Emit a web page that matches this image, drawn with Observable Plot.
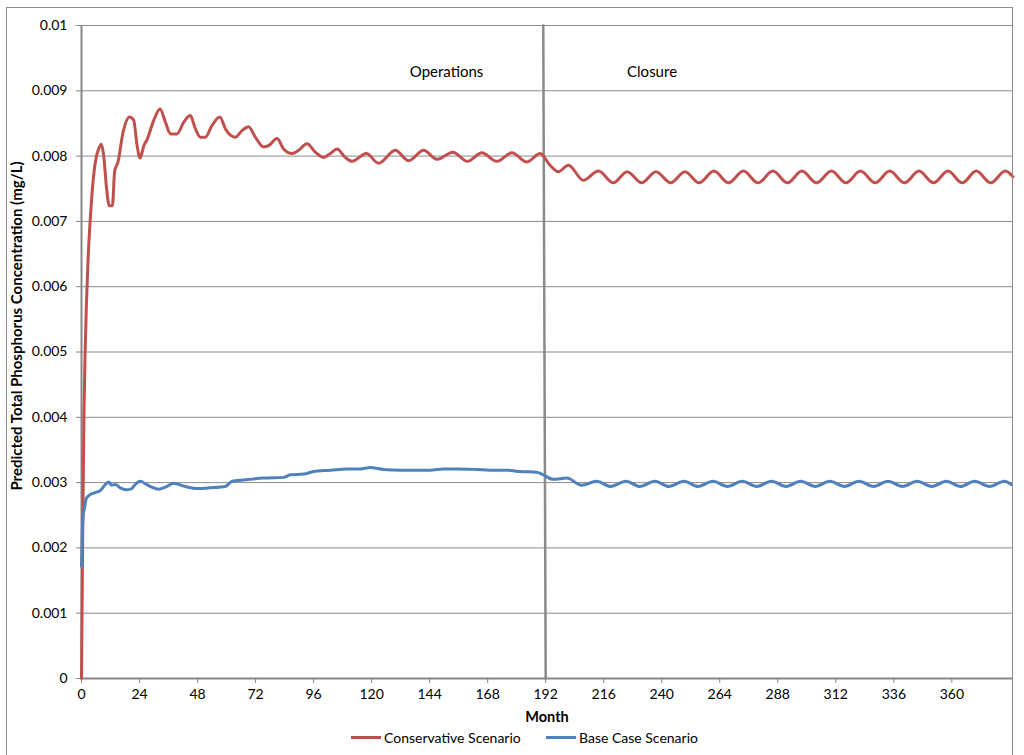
<!DOCTYPE html>
<html>
<head>
<meta charset="utf-8">
<script src="https://cdn.jsdelivr.net/npm/d3@7"></script>
<script src="https://cdn.jsdelivr.net/npm/@observablehq/plot@0.6"></script>
<style>
  body { margin: 0; background: #fff; font-family: Lato, "Liberation Sans", sans-serif; }
  #wrap { position: relative; width: 1024px; height: 755px; overflow: hidden; }
  #frame { position: absolute; left: 6px; top: 7px; width: 1007px; height: 760px; border: 1px solid #8c8c8c; box-sizing: border-box; pointer-events: none; }
  #chart { position: absolute; left: 0; top: 0; }
  #legend { position: absolute; top: 728px; left: 0; width: 1024px; height: 18px; font-size: 14px; color: #000; }
  .item { position: absolute; top: 0; display: flex; align-items: center; height: 18px; }
  .sw { width: 30px; height: 3px; margin-right: 3px; }
</style>
</head>
<body>
<div id="wrap">
  <div id="chart"></div>
  <div id="frame"></div>
  <div id="legend"></div>
</div>
<script>
// ---- Data ----
const seriesNames = ["Conservative Scenario", "Base Case Scenario"];
const seriesColors = ["#C0504D", "#4F81BD"];

const consMonths = [0, 0.5, 1, 1.5, 2, 2.7, 3.4, 4.1, 5, 6.2, 7.2, 8.2, 9.2, 10.3, 11.5, 12.8, 13.7, 15.1, 17.1, 19.9, 21.6, 23, 24.2, 25.8, 27.2, 29.9, 32.5, 34.7, 36.8, 39.5, 42.3, 45, 47.1, 49.2, 51.2, 54, 57.2, 59.5, 61.6, 63.6, 66.4, 69.1, 71.9, 75.3, 77.4, 80.9, 83.6, 87.1, 89.8, 93.3, 96.7, 100.1, 102.9, 105.7, 109.1, 111.9, 117.8, 122.9, 129.8, 135.3, 141.5, 147, 153.6, 159.6, 165.6, 171.8, 178, 184.2, 189.7, 193.8, 197.2, 201.4, 207.6, 213.8, 220, 225.7, 231.7, 237.6, 243.7, 249.6, 255.4, 261.6, 267.6, 273.8, 279.8, 286, 292, 298, 304, 310.2, 316.2, 322.2, 328.3, 334.3, 340.4, 346.4, 352.4, 358.4, 364.3, 370.1, 376.1, 382.1, 385.3];
const consValues = [0, 0.0022, 0.0040, 0.0050, 0.0057, 0.0064, 0.0069, 0.0073, 0.0077, 0.0080, 0.00812, 0.00818, 0.0080, 0.00753, 0.00724, 0.00724, 0.00777, 0.00791, 0.00835, 0.0086, 0.00855, 0.00816, 0.00797, 0.00816, 0.00826, 0.00855, 0.00872, 0.00852, 0.00834, 0.00834, 0.00852, 0.00862, 0.00842, 0.00829, 0.00829, 0.00847, 0.0086, 0.00842, 0.00832, 0.00829, 0.00839, 0.00845, 0.00829, 0.00814, 0.00816, 0.00827, 0.00811, 0.00804, 0.00809, 0.00819, 0.00806, 0.00798, 0.00804, 0.00811, 0.00798, 0.00792, 0.00804, 0.00789, 0.00809, 0.00793, 0.00809, 0.00795, 0.00806, 0.00792, 0.00805, 0.00792, 0.00805, 0.00791, 0.00804, 0.00786, 0.00776, 0.00786, 0.00763, 0.00777, 0.00759, 0.00776, 0.00759, 0.00776, 0.00759, 0.00776, 0.00759, 0.00777, 0.00759, 0.00777, 0.00759, 0.00777, 0.00759, 0.00777, 0.00759, 0.00777, 0.00759, 0.00777, 0.00759, 0.00777, 0.00759, 0.00777, 0.00759, 0.00777, 0.00759, 0.00777, 0.00759, 0.00777, 0.00768];

const baseMonths = [0, 0.3, 0.7, 1.2, 2, 3, 5, 7.5, 9.6, 11.2, 12.5, 14, 16, 18.5, 20.4, 22.5, 24.4, 26.5, 28.5, 32, 34.7, 38.1, 43, 48, 53.3, 59.5, 62.3, 67.1, 75.3, 83.6, 86.4, 91.9, 96, 102.9, 109.8, 115.3, 119.4, 124.9, 131.8, 138.7, 144.2, 149.7, 155.2, 163.5, 169, 175.9, 181.4, 188.3, 190.4, 195.2, 200.7, 206.9, 213.1, 218.8, 225.2, 230.9, 237.2, 242.9, 249.2, 255, 261.2, 267.2, 273.3, 279.3, 285.4, 291.4, 297.5, 303.5, 309.5, 315.6, 321.6, 327.6, 333.6, 339.6, 345.6, 351.7, 357.7, 363.6, 369.4, 375.6, 381.8, 384.6];
const baseValues = [0.00172, 0.0022, 0.0025, 0.0026, 0.00276, 0.0028, 0.00284, 0.00287, 0.00296, 0.00301, 0.00296, 0.00297, 0.00292, 0.00289, 0.0029, 0.00298, 0.00302, 0.00298, 0.00294, 0.0029, 0.00293, 0.00299, 0.00294, 0.00291, 0.00292, 0.00294, 0.00302, 0.00304, 0.00307, 0.00308, 0.00312, 0.00313, 0.00317, 0.00319, 0.00321, 0.00321, 0.00323, 0.0032, 0.00319, 0.00319, 0.00319, 0.00321, 0.00321, 0.0032, 0.00319, 0.00319, 0.00317, 0.00316, 0.00313, 0.00305, 0.00307, 0.00296, 0.00302, 0.00294, 0.00302, 0.00294, 0.00302, 0.00294, 0.00302, 0.00294, 0.00302, 0.00294, 0.00302, 0.00294, 0.00302, 0.00294, 0.00302, 0.00294, 0.00302, 0.00294, 0.00302, 0.00294, 0.00302, 0.00294, 0.00302, 0.00294, 0.00302, 0.00294, 0.00302, 0.00294, 0.00302, 0.00297];

// Operations / Closure divider line
const dividerMonths = [191, 192];
const dividerValues = [0.01, 0];

// Phase annotations
const phaseLabels = ["Operations", "Closure"];
const phaseMonths = [151, 236];
const phaseValues = [0.00928, 0.00928];

const xTicks = [0, 24, 48, 72, 96, 120, 144, 168, 192, 216, 240, 264, 288, 312, 336, 360];
const yTicks = [0, 0.001, 0.002, 0.003, 0.004, 0.005, 0.006, 0.007, 0.008, 0.009, 0.01];
const yTickLabels = ["0", "0.001", "0.002", "0.003", "0.004", "0.005", "0.006", "0.007", "0.008", "0.009", "0.01"];
const xTitle = "Month";
const yTitle = "Predicted Total Phosphorus Concentration (mg/L)";

// ---- Build tables ----
const cons = consMonths.map((m, i) => ({month: m, value: consValues[i], series: seriesNames[0]}));
const base = baseMonths.map((m, i) => ({month: m, value: baseValues[i], series: seriesNames[1]}));
const divider = dividerMonths.map((m, i) => ({month: m, value: dividerValues[i]}));
const phases = phaseLabels.map((t, i) => ({label: t, month: phaseMonths[i], value: phaseValues[i]}));

const gridColor = "#8c8c8c";
const axisColor = "#868686";

const chart = Plot.plot({
  width: 1024,
  height: 730,
  marginLeft: 81,
  marginRight: 11,
  marginTop: 25,
  marginBottom: 52,
  style: {fontFamily: "Lato, 'Liberation Sans', sans-serif", fontSize: "14px", color: "#000", background: "transparent"},
  x: {domain: [0, 385.5]},
  y: {domain: [0, 0.01]},
  marks: [
    Plot.gridY(yTicks, {stroke: gridColor, strokeOpacity: 1, strokeWidth: 1}),
    Plot.line(divider, {x: "month", y: "value", stroke: "#8a8a8a", strokeWidth: 2.5}),
    Plot.ruleX([0], {stroke: axisColor, strokeWidth: 2}),
    Plot.ruleY([0], {stroke: axisColor, strokeWidth: 2}),
    Plot.axisY(yTicks, {tickSize: 5, tickPadding: 9, stroke: axisColor, tickFormat: (d, i) => yTickLabels[i], label: null, fontSize: 14}),
    Plot.axisX(xTicks, {tickSize: 5, tickPadding: 6, stroke: axisColor, label: null, fontSize: 14}),
    Plot.line(cons, {x: "month", y: "value", stroke: seriesColors[0], strokeWidth: 3, curve: "monotone-x"}),
    Plot.line(base, {x: "month", y: "value", stroke: seriesColors[1], strokeWidth: 3, curve: "monotone-x"}),
    Plot.text(phases, {x: "month", y: "value", text: "label", fontSize: 15, fill: "#000"})
  ]
});
document.getElementById("chart").appendChild(chart);

// Axis titles as real SVG text
const svg = d3.select(chart);
svg.append("text")
  .attr("x", 547).attr("y", 718)
  .attr("text-anchor", "middle").attr("dominant-baseline", "middle")
  .attr("font-weight", "bold").attr("font-size", 14.5)
  .attr("fill", "#000")
  .text(xTitle);
svg.append("text")
  .attr("transform", "translate(18,326) rotate(-90)")
  .attr("text-anchor", "middle").attr("dominant-baseline", "middle")
  .attr("font-weight", "bold").attr("font-size", 15)
  .attr("fill", "#000")
  .text(yTitle);

// Legend with line swatches
const legend = document.getElementById("legend");
const legendLeft = [351, 546];
seriesNames.forEach((name, i) => {
  const item = document.createElement("div");
  item.className = "item";
  item.style.left = legendLeft[i] + "px";
  const sw = document.createElement("span");
  sw.className = "sw";
  sw.style.background = seriesColors[i];
  const label = document.createElement("span");
  label.textContent = name;
  item.appendChild(sw);
  item.appendChild(label);
  legend.appendChild(item);
});
</script>
</body>
</html>
